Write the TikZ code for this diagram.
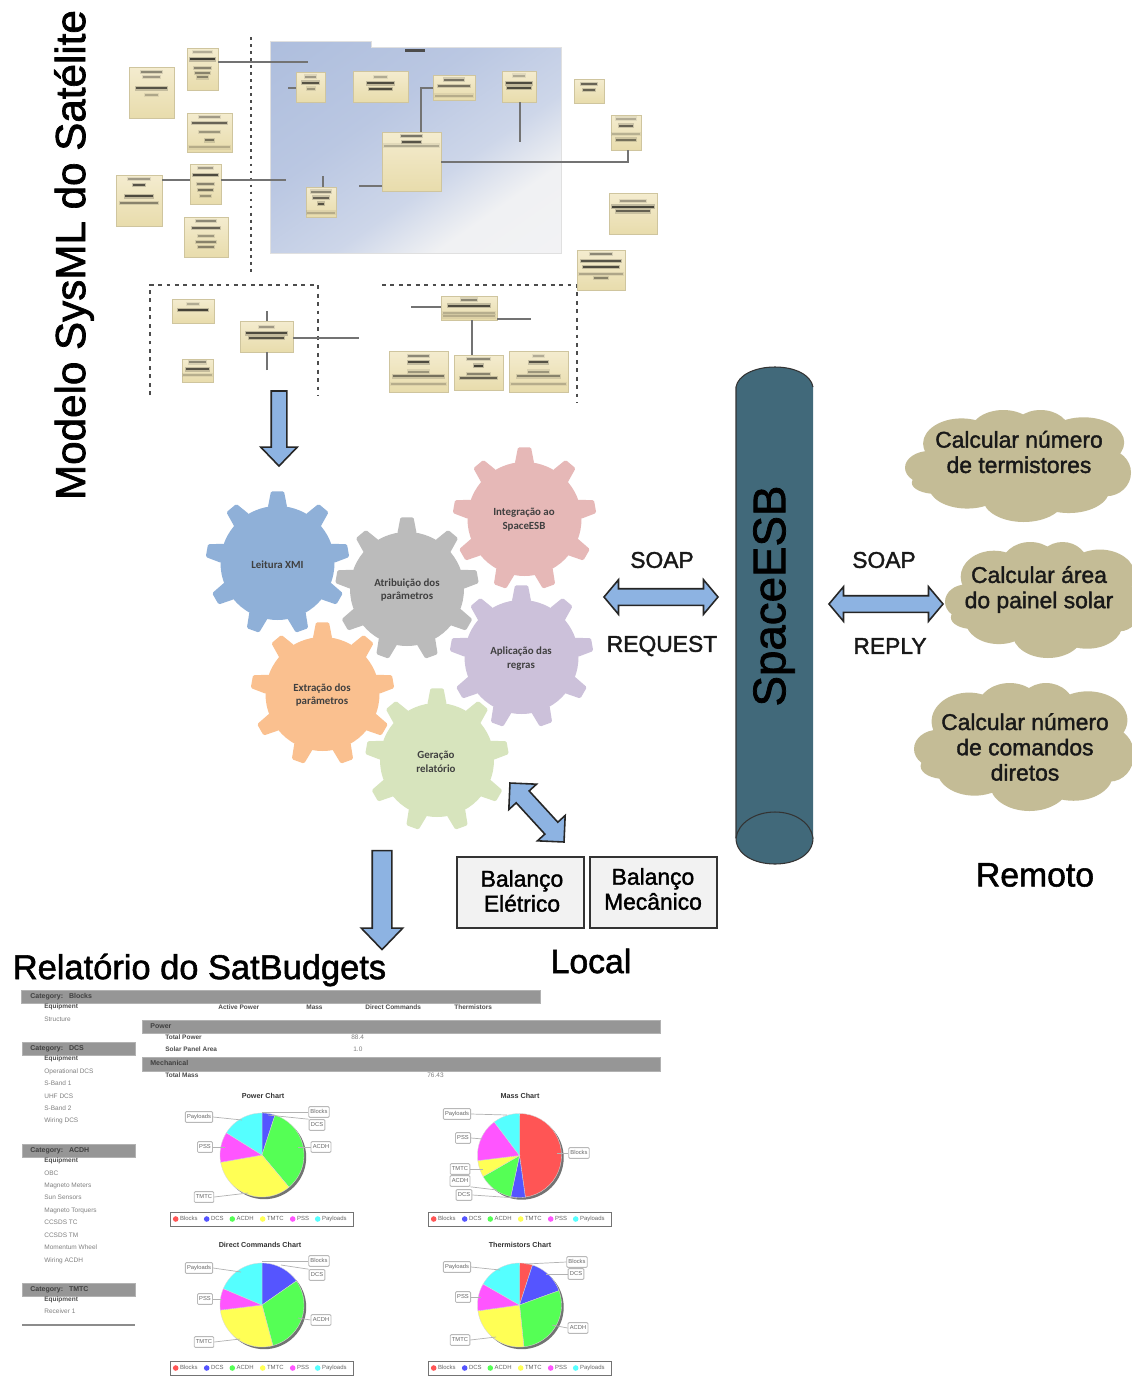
\documentclass[tikz,border=0pt]{standalone}
\usepackage{fontspec}
\setmainfont{Liberation Sans}
\newfontfamily\semib[FakeBold=1.6]{Liberation Sans}
\newfontfamily\gearfont{Carlito}
\usetikzlibrary{shapes.arrows}
\definecolor{arrowblue}{HTML}{8DB3E2}
\definecolor{cloudc}{HTML}{C4BC96}
\definecolor{cyl}{HTML}{41697A}
\definecolor{barg}{HTML}{969696}
\definecolor{umlb}{HTML}{CFC59E}
\definecolor{umltop}{HTML}{F4ECCF}
\definecolor{umlbot}{HTML}{E8DCAC}
\definecolor{pa}{HTML}{F4F4F5}\definecolor{pb}{HTML}{F0F1F3}\definecolor{pc}{HTML}{CDD6E9}\definecolor{pd}{HTML}{BAC7E2}\definecolor{pe}{HTML}{A6B8DA}
\definecolor{FF5555}{HTML}{FF5555}\definecolor{5555FF}{HTML}{5555FF}\definecolor{55FF55}{HTML}{55FF55}
\definecolor{FFFF55}{HTML}{FFFF55}\definecolor{FF55FF}{HTML}{FF55FF}\definecolor{55FFFF}{HTML}{55FFFF}
\pgfdeclareverticalshading{panelshade}{100bp}{color(0bp)=(pa);color(30bp)=(pb);color(42bp)=(pc);color(60bp)=(pd);color(100bp)=(pe)}
\tikzset{
  x=0.02cm,y=-0.02cm,
  umlbox/.style={draw=umlb,line width=0.3pt,top color=umltop,bottom color=umlbot,inner sep=0pt,outer sep=0pt},
  umlline/.style={draw=black!55,line width=0.7pt},
  dotline/.style={draw=black!70,line width=1pt,dash pattern=on 1.6pt off 2.4pt},
  blockarrow/.style={draw=black!85,line width=0.9pt,fill=arrowblue,inner sep=0pt,outer sep=0pt},
  big/.style={font=\semib\fontsize{13}{14.4}\selectfont,align=center,inner sep=0pt,text=black!90},
  balbox/.style={draw=black!80,line width=1.1pt,fill=black!5,inner sep=0pt,minimum width=127*0.02cm,minimum height=71*0.02cm},
  baltext/.style={align=center,inner sep=0pt,font=\semib\fontsize{13}{14.2}\selectfont},
  geartext/.style={font=\gearfont\bfseries\fontsize{6.2}{7.9}\selectfont,align=center,text=black!75,inner sep=0pt},
  rep/.style={anchor=west,inner sep=0pt,text height=2.7pt,text depth=0.8pt,font=\fontsize{3.7}{4.2}\selectfont,text=black!50},
  reph/.style={anchor=west,inner sep=0pt,text height=2.7pt,text depth=0.8pt,font=\bfseries\fontsize{3.7}{4.2}\selectfont,text=black!70},
  repc/.style={anchor=west,inner sep=0pt,text height=2.9pt,text depth=0.8pt,font=\bfseries\fontsize{4}{4.5}\selectfont,text=black!75},
  repbar/.style={fill=barg,draw=black!30,line width=0.2pt,inner sep=0pt},
  pielab/.style={draw=black!28,fill=white,rounded corners=0.6pt,line width=0.5pt,inner xsep=1pt,inner ysep=1.5pt,text height=2.4pt,text depth=0.7pt,font=\fontsize{3.3}{3.6}\selectfont,text=black!60},
  legtext/.style={anchor=west,inner sep=0pt,text height=2.4pt,text depth=0.7pt,font=\fontsize{3.4}{3.8}\selectfont,text=black!60},
  charttitle/.style={inner sep=0pt,font=\bfseries\fontsize{4.1}{4.5}\selectfont,text=black!80},
  leader/.style={draw=black!30,line width=0.4pt}
}
% UML block: name, x1,y1,x2,y2, bars y/w/dark
\newcommand{\uml}[6]{%
  \fill[black!20] ({#2+1},{#3+1}) rectangle ({#4+1},{#5+1});
  \node[umlbox,minimum width={(#4-#2)*0.02cm},minimum height={(#5-#3)*0.02cm}] (#1) at ({(#2+#4)/2},{(#3+#5)/2}) {};
  \foreach \ry/\rw/\dk in {#6}{
    \pgfmathsetmacro\mx{(#2+#4)/2}\pgfmathsetmacro\my{#3+\ry*(#5-#3)}\pgfmathsetmacro\hw{\rw*(#4-#2)/2*0.92}
    \fill[black,opacity=0.22*\dk/100] ({\mx-\hw-1},{\my-2.2}) rectangle ({\mx+\hw+1},{\my+2.2});
    \fill[black,opacity=0.7*\dk/100] ({\mx-\hw},{\my-1}) rectangle ({\mx+\hw},{\my+1});
  }}
% gear
\newcommand{\gear}[6]{%
  \fill[#4] (#2,#3) circle[radius=57];
  \foreach \i in {0,...,8}{
    \pgfmathsetmacro\a{40*\i}
    \fill[#4,rounded corners=0.8pt]
      ({#2+56*sin(\a-10)},{#3-56*cos(\a-10)}) -- ({#2+72*sin(\a-5.2)},{#3-72*cos(\a-5.2)}) --
      ({#2+72*sin(\a+5.2)},{#3-72*cos(\a+5.2)}) -- ({#2+56*sin(\a+10)},{#3-56*cos(\a+10)}) -- cycle;
  }
  \node[geartext] (#1) at (#5) {#6};}
% cloud: cx cy rx ry name text textx texty
\newcommand{\cloudshape}[8]{%
  \begin{scope}[shift={(#1,#2)}]
  \foreach \ex/\ey/\ea/\eb in {0/0/.72/.62,-.5/-.4/.34/.45,-.13/-.58/.3/.42,.2/-.6/.26/.4,.58/-.42/.36/.45,.78/.12/.22/.42,.45/.42/.36/.42,.05/.58/.36/.42,-.45/.36/.34/.4,-.78/.03/.22/.3,-.72/.3/.22/.2}{
    \fill[cloudc] ({\ex*#3},{\ey*#4}) ellipse[x radius={\ea*#3},y radius={\eb*#4}];
  }
  \end{scope}
  \node[big] (#5) at (#7,#8) {#6};}
% pie
\newcommand{\slice}[6]{%
  \fill[#6,draw=black!15,line width=0.2pt] (#1,#2) -- plot[domain=#4:#5,samples=24] ({#1+#3*sin(\x)},{#2-#3*cos(\x)}) -- cycle;}
\newcommand{\pielab}[7]{% name x y text anchor tipx tipy
  \node[pielab] (#1) at (#2,#3) {#4};
  \coordinate (#1t) at (#6,#7);
  \draw[leader] (#1.#5) -- (#1t);}
\newcommand{\legendbar}[3]{% name x y
  \node[draw=black!55,fill=white,line width=0.5pt,minimum width=183*0.02cm,minimum height=14*0.02cm,inner sep=0pt] (#1) at ({#2+91.5},{#3+7}) {};
  \foreach \o/\t/\c [count=\k] in {5.7/Blocks/FF5555,36.7/DCS/5555FF,62.3/ACDH/55FF55,92.7/TMTC/FFFF55,122.7/PSS/FF55FF,147.7/Payloads/55FFFF}{
    \fill[\c] ({#2+\o},{#3+7}) circle[radius=2.8];
    \node[legtext] (#1i\k) at ({#2+\o+4},{#3+7}) {\t};
  }}
\begin{document}
\begin{tikzpicture}
\useasboundingbox (0,0) rectangle (1132,1376);
\fill[white] (0,0) rectangle (1132,1376);
% ---- SysML panel
\path[shading=panelshade,shading angle=35,draw=black!12,line width=0.3pt]
  (270,41) -- (371,41) -- (371,47) -- (561,47) -- (561,253) -- (270,253) -- cycle;
\fill[black!70] (405,48.5) rectangle (425,51.5);
\draw[dotline] (251,37) -- (251,272);
\draw[dotline,dash pattern=on 2.2pt off 2.6pt] (150,395) -- (150,285) -- (318,285) -- (318,395);
\draw[dotline,dash pattern=on 2.2pt off 2.6pt] (382,285) -- (577,285) -- (577,403);
% free ends of connectors
\coordinate (e1) at (308,62); \coordinate (e2) at (286,180); \coordinate (e3) at (288,88);
\coordinate (e4) at (421,88); \coordinate (e5) at (520,142); \coordinate (e6) at (628,162);
\coordinate (e7) at (359,186); \coordinate (e8) at (323,176); \coordinate (e9) at (267,311);
\coordinate (e10) at (267,370); \coordinate (e11) at (359,338); \coordinate (e12) at (411,307);
\coordinate (e13) at (531,319); \coordinate (e14) at (472,355);
\uml{b1}{129}{67}{174}{118}{.1/.5/50,.2/.4/40,.42/.75/80,.55/.3/30}
\uml{b2}{187}{48}{218}{90}{.1/.7/30,.27/.9/95,.48/.6/50,.6/.5/50,.7/.4/50}
\uml{b3}{187}{113}{232}{152}{.1/.5/40,.25/.85/70,.48/.5/40,.7/.2/60,.88/1/25}
\uml{b4}{190}{164}{221}{204}{.1/.5/40,.27/.9/85,.5/.6/50,.65/.5/60,.8/.4/40}
\uml{b5}{116}{175}{162}{226}{.08/.5/40,.2/.3/80,.42/.65/85,.55/.9/50}
\uml{b6}{184}{217}{228}{257}{.1/.5/50,.27/.7/70,.48/.4/40,.62/.5/50,.75/.4/50}
\uml{b7}{296}{72}{325}{102}{.15/.4/40,.35/.6/80,.55/.3/40}
\uml{b8}{353}{71}{408}{102}{.2/.25/30,.4/.55/85,.58/.45/85}
\uml{b9}{433}{75}{475}{100}{.18/.5/60,.45/.85/60,.82/1/25}
\uml{b10}{502}{71}{536}{102}{.15/.4/30,.4/.85/85,.55/.75/85}
\uml{b11}{382}{132}{441}{191}{.07/.4/60,.17/.35/80,.23/1/30}
\uml{b12}{306}{187}{336}{217}{.15/.7/50,.35/.6/70,.55/.2/80,.85/1/25}
\uml{b13}{574}{79}{604}{103}{.2/.6/70,.45/.4/70}
\uml{b14}{611}{115}{641}{150}{.1/.7/30,.3/.5/70,.55/1/25,.7/.7/60}
\uml{b15}{609}{193}{657}{234}{.2/.6/40,.33/.95/90,.45/.75/70}
\uml{b16}{577}{250}{625}{290}{.1/.5/50,.28/.9/80,.43/.8/85,.6/1/30,.7/.3/50}
\uml{b17}{172}{299}{214}{323}{.2/.3/30,.45/.8/90}
\uml{b18}{240}{321}{293}{352}{.2/.3/40,.4/.85/85,.55/.7/80}
\uml{b19}{182}{359}{213}{382}{.15/.6/50,.45/.8/80,.7/1/25}
\uml{b20}{441}{296}{497}{320}{.15/.3/50,.4/.8/85,.72/1/25,.85/1/25}
\uml{b21}{389}{351}{448}{392}{.12/.4/50,.28/.4/85,.5/.4/40,.62/.95/60,.8/1/25}
\uml{b22}{454}{355}{503}{390}{.12/.5/50,.3/.2/90,.55/.5/50,.65/.8/70}
\uml{b23}{509}{351}{568}{392}{.12/.2/30,.28/.35/80,.5/.4/40,.62/.8/50,.8/1/25}
\draw[umlline] (e1 -| b2.east) -- (e1);
\draw[umlline] (b5.east |- e2) -- (b4.west |- e2);
\draw[umlline] (b4.east |- e2) -- (e2);
\draw[umlline] (e3) -- (b7.west |- e3);
\draw[umlline] (b9.west |- e4) -- (e4) -- (e4 |- b11.north);
\draw[umlline] (e5 |- b10.south) -- (e5);
\draw[umlline] (b11.east |- e6) -- (e6) -- (e6 |- b14.south);
\draw[umlline] (e7) -- (b11.west |- e7);
\draw[umlline] (e8) -- (e8 |- b12.north);
\draw[umlline] (e9) -- (e9 |- b18.north);
\draw[umlline] (e10) -- (e10 |- b18.south);
\draw[umlline] (b18.east |- e11) -- (e11);
\draw[umlline] (e12) -- (b20.west |- e12);
\draw[umlline] (b20.east |- e13) -- (e13);
\draw[umlline] (e14 |- b20.south) -- (e14);
% ---- big titles
\node[rotate=90,inner sep=0pt,font=\semib\fontsize{24}{25}\selectfont] (t1) at (74,255) {Modelo SysML do Satélite};
\node[inner sep=0pt,font=\semib\fontsize{19.6}{20}\selectfont] (t2) at (199.5,970) {Relatório do SatBudgets};
\node[inner sep=0pt,font=\semib\fontsize{19.2}{20}\selectfont] (t3) at (591,961) {Local};
\node[inner sep=0pt,font=\semib\fontsize{19.2}{20}\selectfont] (t4) at (1035,875) {Remoto};
% ---- gears
\definecolor{gblue}{HTML}{8FB0D8}\definecolor{ggray}{HTML}{BBBBBB}\definecolor{gpink}{HTML}{E6B8B7}
\definecolor{gorange}{HTML}{FAC08F}\definecolor{gpurple}{HTML}{CCC1DA}\definecolor{ggreen}{HTML}{D7E4BD}
\gear{g1}{277.5}{563}{gblue}{277.5,565}{Leitura XMI}
\gear{g2}{407}{589}{ggray}{407,590}{Atribuição dos\\parâmetros}
\gear{g3}{524.5}{519}{gpink}{524,520}{Integração ao\\SpaceESB}
\gear{g4}{322.5}{694}{gorange}{322,695}{Extração dos\\parâmetros}
\gear{g5}{521.5}{657}{gpurple}{521,659}{Aplicação das\\regras}
\gear{g6}{437}{760}{ggreen}{436,762}{Geração\\relatório}
% ---- block arrows
\node[blockarrow,single arrow,rotate=-90,minimum height=75*0.02cm,single arrow head extend=10.5*0.02cm,single arrow tip angle=88] (a1) at (279,424.5) {\rule{0pt}{0.28cm}};
\node[blockarrow,single arrow,rotate=-90,minimum height=99*0.02cm,single arrow head extend=11*0.02cm,single arrow tip angle=88] (a2) at (382,895) {\rule{0pt}{0.36cm}};
\node[blockarrow,double arrow,minimum height=114*0.02cm,double arrow head extend=9*0.02cm,double arrow tip angle=100] (a3) at (661,597) {\rule{0pt}{0.3cm}};
\node[blockarrow,double arrow,minimum height=114*0.02cm,double arrow head extend=9*0.02cm,double arrow tip angle=100] (a4) at (886,604) {\rule{0pt}{0.3cm}};
\node[blockarrow,double arrow,rotate=-47.5,minimum height=80*0.02cm,double arrow head extend=10*0.02cm,double arrow tip angle=90] (a5) at (537,812.5) {\rule{0pt}{0.32cm}};
\node[big] (s1) at (662,560) {SOAP};
\node[big] (s2) at (662,646) {REQUEST};
\node[big] (s3) at (884,560) {SOAP};
\node[big] (s4) at (890,646) {REPLY};
% ---- balance boxes
\node[balbox] (bal1) at (520.5,892.5) {};
\node[balbox] (bal2) at (653.5,892.5) {};
\node[baltext] (bal1t) at (522,891) {Balanço\\Elétrico};
\node[baltext] (bal2t) at (653,889) {Balanço\\Mecânico};
% ---- SpaceESB cylinder
\fill[cyl] (736,387) .. controls (738,375) and (755,367) .. (775,367) .. controls (795,367) and (811,375) .. (813,387) -- (813,838) .. controls (813,855) and (795,864) .. (775,864) .. controls (755,864) and (736,855) .. (736,838) -- cycle;
\draw[black!80,line width=0.6pt] (736,838) -- (736,387) .. controls (738,375) and (755,367) .. (775,367) .. controls (795,367) and (811,375) .. (813,387);
\draw[black!80,line width=0.6pt] (736,838) .. controls (736,855) and (755,864) .. (775,864) .. controls (795,864) and (813,855) .. (813,838);
\draw[black!80,line width=0.6pt] (736,838) .. controls (738,823) and (755,812) .. (775,812) .. controls (795,812) and (811,823) .. (813,838);
\node[rotate=90,inner sep=0pt,font=\semib\fontsize{26}{27}\selectfont] (esb) at (774,596) {SpaceESB};
% ---- clouds
\cloudshape{1018}{466}{113}{56}{c1}{Calcular número\\de termistores}{1019}{452}
\cloudshape{1043}{600}{98}{58}{c2}{Calcular área\\do painel solar}{1039}{589.5}
\cloudshape{1024}{747}{110}{64}{c3}{Calcular número\\de comandos\\diretos}{1025}{747}
% ---- report: tables
\node[repbar,minimum width=519*0.02cm,minimum height=13*0.02cm] (r1) at (280.5,997) {};
\node[repc] (r1t) at (30,997) {Category:\ \ \ Blocks};
\node[repbar,minimum width=518*0.02cm,minimum height=13*0.02cm] (r2) at (401,1026.5) {};
\node[repc] (r2t) at (150,1026.5) {Power};
\node[repbar,minimum width=518*0.02cm,minimum height=14*0.02cm] (r3) at (401,1064) {};
\node[repc] (r3t) at (150,1063.5) {Mechanical};
\foreach \yy/\nm [count=\i] in {1048.5/DCS,1150.5/ACDH,1289.5/TMTC}{
  \node[repbar,minimum width=113*0.02cm,minimum height=13*0.02cm] (cb\i) at (78.5,\yy) {};
  \node[repc] (cbt\i) at (30,\yy) {Category:\ \ \ \nm};
}
\foreach \yy [count=\i] in {1007,1059,1161,1300}{\node[reph] (eq\i) at (44,\yy) {Equipment};}
\foreach \yy/\nm [count=\i] in {1020/Structure,1071.5/Operational DCS,1084/S-Band 1,1097/UHF DCS,1109/S-Band 2,1121/Wiring DCS,1173.5/OBC,1186/Magneto Meters,1198/Sun Sensors,1211/Magneto Torquers,1223/CCSDS TC,1236/CCSDS TM,1248/Momentum Wheel,1261/Wiring ACDH,1312/Receiver 1}{
  \node[rep] (it\i) at (44,\yy) {\nm};
}
\foreach \xx/\nm [count=\i] in {218/Active Power,306/Mass,365/Direct Commands,454/Thermistors}{
  \node[reph] (hd\i) at (\xx,1007.5) {\nm};
}
\foreach \yy/\nm [count=\i] in {1037.5/Total Power,1049.5/Solar Panel Area,1076/Total Mass}{
  \node[reph] (to\i) at (165,\yy) {\nm};
}
\node[rep] (v1) at (351,1037.5) {88.4};
\node[rep] (v2) at (353,1049.5) {1.0};
\node[rep] (v3) at (427,1076) {76.43};
\coordinate (ln1) at (22,1325); \coordinate (ln2) at (135,1325);
\draw[black!45,line width=0.7pt] (ln1) -- (ln2);
% ---- charts
\node[charttitle] (ct1) at (263,1096) {Power Chart};
\node[charttitle] (ct2) at (520,1096) {Mass Chart};
\node[charttitle] (ct3) at (260,1245) {Direct Commands Chart};
\node[charttitle] (ct4) at (520,1245) {Thermistors Chart};
\foreach \px/\py in {262/1155,519.5/1155.5,262/1305,519.5/1305}{
  \fill[black!55] ({\px+2.2},{\py+2.2}) circle[radius=42];
}
% power
\slice{262}{1155}{42}{0}{18}{5555FF}
\slice{262}{1155}{42}{18}{140}{55FF55}
\slice{262}{1155}{42}{140}{260}{FFFF55}
\slice{262}{1155}{42}{260}{302}{FF55FF}
\slice{262}{1155}{42}{302}{360}{55FFFF}
% mass
\slice{519.5}{1155.5}{42}{0}{172}{FF5555}
\slice{519.5}{1155.5}{42}{172}{192}{5555FF}
\slice{519.5}{1155.5}{42}{192}{240}{55FF55}
\slice{519.5}{1155.5}{42}{240}{263}{FFFF55}
\slice{519.5}{1155.5}{42}{263}{323}{FF55FF}
\slice{519.5}{1155.5}{42}{323}{360}{55FFFF}
% direct commands
\slice{262}{1305}{42}{0}{55}{5555FF}
\slice{262}{1305}{42}{55}{165}{55FF55}
\slice{262}{1305}{42}{165}{263}{FFFF55}
\slice{262}{1305}{42}{263}{293}{FF55FF}
\slice{262}{1305}{42}{293}{360}{55FFFF}
% thermistors
\slice{519.5}{1305}{42}{0}{18}{FF5555}
\slice{519.5}{1305}{42}{18}{70}{5555FF}
\slice{519.5}{1305}{42}{70}{174}{55FF55}
\slice{519.5}{1305}{42}{174}{262}{FFFF55}
\slice{519.5}{1305}{42}{262}{300}{FF55FF}
\slice{519.5}{1305}{42}{300}{360}{55FFFF}
% labels
\pielab{pwa}{199}{1117}{Payloads}{east}{242}{1120}
\pielab{pwb}{319}{1112}{Blocks}{west}{262}{1112}
\pielab{pwc}{317}{1125}{DCS}{north west}{268}{1115}
\pielab{pwd}{321}{1147}{ACDH}{west}{298}{1147}
\pielab{pwe}{205}{1147}{PSS}{east}{225}{1147}
\pielab{pwf}{204}{1197}{TMTC}{east}{248}{1193}
\pielab{ma}{457}{1114}{Payloads}{east}{507}{1115}
\pielab{mb}{463}{1138}{PSS}{east}{483}{1139}
\pielab{mc}{460}{1169}{TMTC}{east}{483}{1169}
\pielab{md}{460}{1181}{ACDH}{south east}{497}{1190}
\pielab{me}{464}{1195}{DCS}{east}{517}{1198}
\pielab{mf}{579}{1153}{Blocks}{west}{557}{1153}
\pielab{da}{199}{1268}{Payloads}{east}{241}{1272}
\pielab{db}{319}{1261}{Blocks}{west}{262}{1261}
\pielab{dc}{317}{1275}{DCS}{north west}{281}{1265}
\pielab{dd}{321}{1320}{ACDH}{west}{298}{1318}
\pielab{de}{205}{1299}{PSS}{east}{222}{1299}
\pielab{df}{204}{1342}{TMTC}{east}{240}{1339}
\pielab{ta}{457}{1267}{Payloads}{east}{500}{1270}
\pielab{tb}{577}{1262}{Blocks}{west}{526}{1264}
\pielab{tc}{576}{1274}{DCS}{west}{546}{1274}
\pielab{td}{578}{1328}{ACDH}{west}{552}{1325}
\pielab{te}{463}{1297}{PSS}{east}{481}{1297}
\pielab{tf}{460}{1340}{TMTC}{east}{496}{1337}
\legendbar{l1}{170}{1212}
\legendbar{l2}{428}{1212}
\legendbar{l3}{170}{1361}
\legendbar{l4}{428}{1361}
\end{tikzpicture}
\end{document}
